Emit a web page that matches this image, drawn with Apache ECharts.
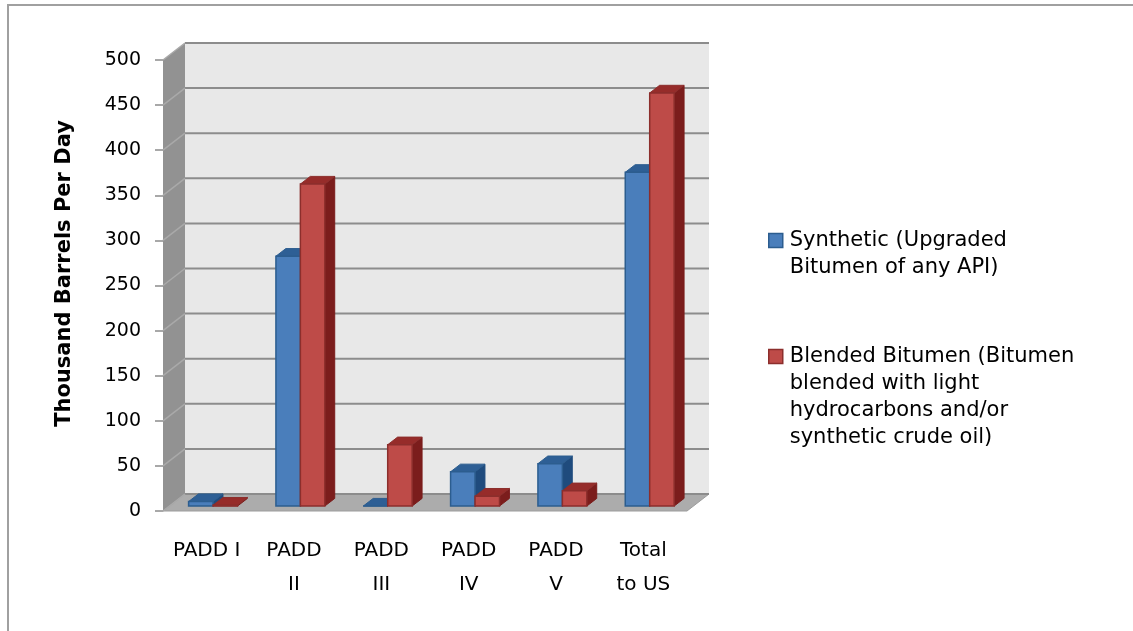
<!DOCTYPE html>
<html>
<head>
<meta charset="utf-8">
<script src="https://cdn.jsdelivr.net/npm/echarts@6/dist/echarts.min.js"></script>
<style>
  html, body { margin: 0; padding: 0; background: #fff; }
  #chart { width: 1133px; height: 631px; }
</style>
</head>
<body>
<div id="chart"></div>
<script>
// data
const categories = ["PADD I", "PADD\nII", "PADD\nIII", "PADD\nIV", "PADD\nV", "Total\nto US"];
const synthetic = [5, 277, 0, 38, 47, 370];
const blended = [1, 357, 68, 11, 17, 458];
const yTicks = [0, 50, 100, 150, 200, 250, 300, 350, 400, 450, 500];

const syntheticName = "Synthetic (Upgraded Bitumen of any API)";
const blendedName = "Blended Bitumen (Bitumen blended with light hydrocarbons and/or synthetic crude oil)";
const legendLines = {
  [syntheticName]: ["Synthetic (Upgraded", "Bitumen of any API)"],
  [blendedName]: ["Blended Bitumen (Bitumen", "blended with light", "hydrocarbons and/or", "synthetic crude oil)"],
};

// fake 3d depth of the plot box
const DX = 22, DY = -17;
const FRONT = 0.29, DEPTH = 0.45, BAR_FRAC = 0.28;
const FONT = "DejaVu Sans";
const LEGEND_LH = 27, SWATCH = 14;

const blue = { front: "#4a7ebb", edge: "#2c5d8f", top: "#2e5f95", side: "#1f4b7d" };
const red = { front: "#be4b48", edge: "#8c2e2c", top: "#962c2a", side: "#7b1d1c" };

const chart = echarts.init(document.getElementById("chart"));

function barRenderer(slot, colors) {
  return function (params, api) {
    const c = api.value(0);
    const v = api.value(1);
    const base = api.coord([c, 0]);
    const top = api.coord([c, v]);
    const bw = api.size([1, 0])[0] * BAR_FRAC;
    const x0 = base[0] + FRONT * DX + (slot === 0 ? -bw : 0);
    const yb = base[1] + FRONT * DY;
    const yt = top[1] + FRONT * DY;
    const dx = DEPTH * DX, dy = DEPTH * DY;
    return {
      type: "group",
      children: [
        {
          type: "polygon",
          shape: { points: [[x0 + bw, yt], [x0 + bw + dx, yt + dy], [x0 + bw + dx, yb + dy], [x0 + bw, yb]] },
          style: { fill: colors.side, stroke: colors.side, lineWidth: 1 },
        },
        {
          type: "polygon",
          shape: { points: [[x0, yt], [x0 + dx, yt + dy], [x0 + bw + dx, yt + dy], [x0 + bw, yt]] },
          style: { fill: colors.top, stroke: colors.edge, lineWidth: 1 },
        },
        {
          type: "rect",
          shape: { x: x0, y: yt, width: bw, height: yb - yt },
          style: { fill: colors.front, stroke: colors.edge, lineWidth: 1.5 },
        },
      ],
    };
  };
}

function wallsRenderer(params, api) {
  const cs = params.coordSys;
  const x = cs.x, y = cs.y, w = cs.width, h = cs.height;
  return {
    type: "group",
    children: [
      {
        type: "rect",
        shape: { x: x + DX, y: y + DY, width: w, height: h },
        style: { fill: "#e8e8e8" },
      },
      {
        type: "polygon",
        shape: { points: [[x, y + h], [x, y], [x + DX, y + DY], [x + DX, y + h + DY]] },
        style: { fill: "#929292" },
      },
      {
        type: "polygon",
        shape: { points: [[x, y + h], [x + w, y + h], [x + w + DX, y + h + DY], [x + DX, y + h + DY]] },
        style: { fill: "#acacac", stroke: "#9c9c9c", lineWidth: 1 },
      },
    ],
  };
}

function gridRenderer(params, api) {
  const cs = params.coordSys;
  const yy = api.coord([0, api.value(1)])[1];
  return {
    type: "group",
    children: [
      {
        type: "line",
        shape: { x1: cs.x + DX, y1: yy + DY, x2: cs.x + cs.width + DX, y2: yy + DY },
        style: { stroke: "#8c8c8c", lineWidth: 2 },
      },
      {
        type: "line",
        shape: { x1: cs.x, y1: yy, x2: cs.x + DX, y2: yy + DY },
        style: { stroke: "#a9a9a9", lineWidth: 1.5 },
      },
    ],
  };
}

// swatch sits beside the first text line: the icon box is made as tall as
// the text block minus one line, with the square drawn at its top
function legendFor(name, colors, top) {
  const n = legendLines[name].length;
  const h = SWATCH + (n - 1) * LEGEND_LH;
  return {
    data: [{ name: name, itemStyle: { color: colors.front, borderColor: colors.edge, borderWidth: 1.5 } }],
    left: 768,
    top: top,
    padding: 0,
    icon: "path://M0,0L" + SWATCH + ",0L" + SWATCH + "," + SWATCH + "L0," + SWATCH + "ZM0," + h + "L0.001," + h,
    itemWidth: SWATCH,
    itemHeight: h,
    selectedMode: false,
    formatter: (nm) => legendLines[nm].join("\n"),
    textStyle: {
      fontFamily: FONT,
      fontSize: 21,
      lineHeight: LEGEND_LH,
      color: "#000",
      padding: [0, 0, 0, 2],
    },
  };
}

const option = {
  animation: false,
  backgroundColor: "#fff",
  graphic: [
    {
      type: "rect",
      shape: { x: 8, y: 5, width: 1200, height: 700 },
      style: { fill: "none", stroke: "#a0a0a0", lineWidth: 2 },
      silent: true,
    },
  ],
  legend: [legendFor(syntheticName, blue, 227), legendFor(blendedName, red, 343)],
  grid: { left: 163, top: 60, width: 524, height: 451 },
  xAxis: {
    type: "category",
    data: categories,
    axisLine: { show: false },
    axisTick: { show: false },
    axisLabel: {
      interval: 0,
      margin: 23,
      fontFamily: FONT,
      fontSize: 20,
      lineHeight: 34,
      color: "#000",
    },
  },
  yAxis: {
    type: "value",
    min: 0,
    max: 500,
    interval: 50,
    name: "Thousand Barrels Per Day",
    nameLocation: "middle",
    nameGap: 88,
    nameTextStyle: {
      fontFamily: FONT,
      fontSize: 21,
      fontWeight: "bold",
      color: "#000",
      padding: [0, 0, 0, 24],
    },
    axisLine: { show: false },
    axisTick: { show: true, length: 8, lineStyle: { color: "#8c8c8c", width: 1.5 } },
    splitLine: { show: false },
    axisLabel: { margin: 22, fontFamily: FONT, fontSize: 19, color: "#000" },
  },
  series: [
    {
      type: "custom",
      name: "walls",
      silent: true,
      z: 1,
      renderItem: wallsRenderer,
      data: [[0, 0]],
    },
    {
      type: "custom",
      name: "grid",
      silent: true,
      z: 2,
      renderItem: gridRenderer,
      data: yTicks.map((v) => [0, v]),
    },
    {
      type: "custom",
      name: syntheticName,
      z: 3,
      itemStyle: { color: blue.front },
      renderItem: barRenderer(0, blue),
      encode: { x: 0, y: 1 },
      data: synthetic.map((v, i) => [i, v]),
    },
    {
      type: "custom",
      name: blendedName,
      z: 3,
      itemStyle: { color: red.front },
      renderItem: barRenderer(1, red),
      encode: { x: 0, y: 1 },
      data: blended.map((v, i) => [i, v]),
    },
  ],
};

chart.setOption(option);
window.addEventListener("resize", () => chart.resize());
</script>
</body>
</html>
